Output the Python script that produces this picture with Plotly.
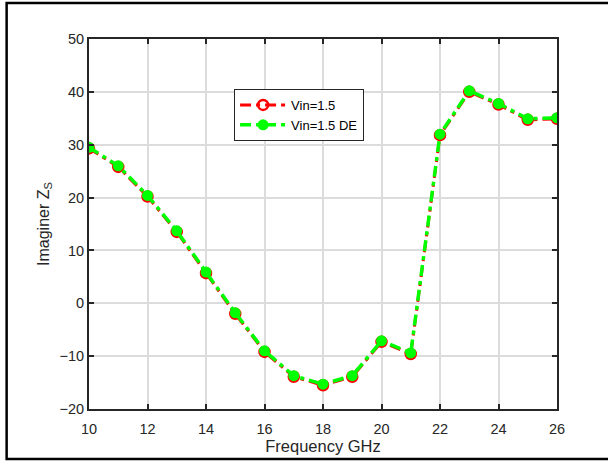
import plotly.graph_objects as go

# Frequency sweep (GHz) and imaginary part of the source impedance
freq_ghz = [10, 11, 12, 13, 14, 15, 16, 17, 18, 19, 20, 21, 22, 23, 24, 25, 26]
imag_zs_vin = [29.3, 25.8, 20.2, 13.5, 5.7, -2.0, -9.2, -13.9, -15.5, -13.9, -7.3, -9.6, 31.8, 40.0, 37.6, 34.7, 34.9]
imag_zs_de = [29.5, 26.0, 20.4, 13.7, 5.9, -1.8, -9.0, -13.7, -15.3, -13.7, -7.1, -9.4, 32.0, 40.2, 37.8, 34.9, 35.1]

x_ticks = [10, 12, 14, 16, 18, 20, 22, 24, 26]
y_ticks = [-20, -10, 0, 10, 20, 30, 40, 50]

FONT = "Liberation Sans, Arial, sans-serif"
DASH = "11px,5px,4px,5px"

fig = go.Figure()

fig.add_trace(go.Scatter(
    x=freq_ghz, y=imag_zs_vin, name="Vin=1.5",
    mode="lines+markers",
    line=dict(color="#ff0000", width=3, dash=DASH),
    marker=dict(symbol="circle-open", size=10, color="#ff0000", line=dict(width=2.5, color="#ff0000")),
))

fig.add_trace(go.Scatter(
    x=freq_ghz, y=imag_zs_de, name="Vin=1.5 DE",
    mode="lines+markers",
    line=dict(color="#00ff00", width=3.5, dash=DASH),
    marker=dict(symbol="circle", size=11, color="#00ff00"),
))

axis_common = dict(
    showline=True, linecolor="#262626", linewidth=2, mirror="ticks",
    ticks="inside", ticklen=5, tickwidth=1.5, tickcolor="#262626",
    showgrid=True, gridcolor="#dcdcdc", gridwidth=1.5,
    zeroline=False, automargin=False,
    tickfont=dict(family=FONT, size=14.5, color="#262626"),
)

fig.update_xaxes(
    range=[10, 26], tickvals=x_ticks, ticklabelstandoff=6,
    title=dict(text="Frequency GHz", standoff=4,
               font=dict(family=FONT, size=16.5, color="#262626")),
    **axis_common,
)
fig.update_yaxes(
    range=[-20, 50], tickvals=y_ticks,
    title=dict(text="Imaginer Z<sub>S</sub>", standoff=6,
               font=dict(family=FONT, size=16, color="#262626")),
    **axis_common,
)

# Outer figure border
fig.add_shape(
    type="rect", xref="paper", yref="paper",
    x0=-0.176, x1=1.2, y0=-0.135, y1=1.097,
    line=dict(color="black", width=2.5), fillcolor="rgba(0,0,0,0)",
    layer="below",
)

fig.update_layout(
    width=608, height=461,
    margin=dict(l=89, r=51, t=39, b=52),
    paper_bgcolor="white", plot_bgcolor="white",
    showlegend=True,
    legend=dict(
        x=0.31, y=0.865, xanchor="left", yanchor="top",
        bgcolor="white", bordercolor="#262626", borderwidth=1,
        font=dict(family=FONT, size=13, color="black"),
        itemwidth=46, tracegroupgap=0,
    ),
)

fig.write_html("out.html")
